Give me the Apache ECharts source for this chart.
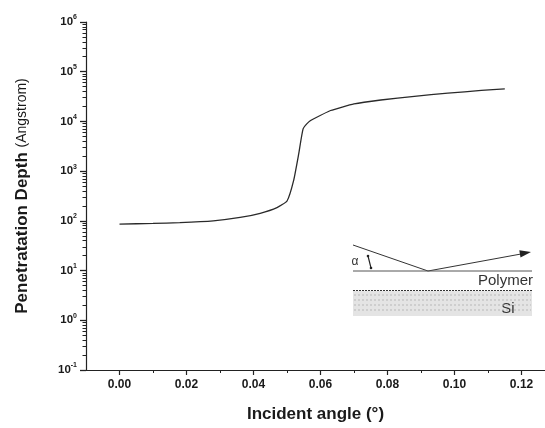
<!DOCTYPE html>
<html>
<head>
<meta charset="utf-8">
<script src="https://cdn.jsdelivr.net/npm/echarts@6/dist/echarts.min.js"></script>
<style>
  html, body { margin: 0; padding: 0; background: #fff; }
  #main { width: 545px; height: 428px; }
</style>
</head>
<body>
<div id="main"></div>
<script>
// incident angle (deg) vs penetration depth (Angstrom)
var angles = [0, 0.010, 0.018, 0.028, 0.036, 0.042, 0.047, 0.050, 0.052, 0.0535, 0.0548, 0.0565, 0.058, 0.063, 0.070, 0.078, 0.088, 0.098, 0.108, 0.115];
var depths = [86, 89, 92, 100, 117, 142, 185, 251, 660, 2240, 7070, 9800, 11300, 16600, 22500, 27000, 32000, 37000, 42000, 45000];

var xMajorTicks = [0, 0.02, 0.04, 0.06, 0.08, 0.10, 0.12];
var xMinorTicks = [0.01, 0.03, 0.05, 0.07, 0.09, 0.11];
var yDecades = [-1, 0, 1, 2, 3, 4, 5, 6]; // exponents of 10

var yMinorTicks = [];
for (var d = -1; d < 6; d++) {
	for (var k = 2; k <= 9; k++) {
		yMinorTicks.push(d + Math.log10(k));
	}
}

var lineData = angles.map(function (a, i) {
	return [a, Math.log10(depths[i])];
});

var txt = '#1a1a1a';

// inset sketch (beam reflecting off polymer on Si)
var inset = [
	{ type: 'line', shape: { x1: 353, y1: 245, x2: 428, y2: 271 }, style: { stroke: '#333', lineWidth: 1 } },
	{ type: 'line', shape: { x1: 428, y1: 271, x2: 521, y2: 254 }, style: { stroke: '#333', lineWidth: 1 } },
	{ type: 'polygon', shape: { points: [[531, 252], [520.5, 257.5], [519.3, 250.3]] }, style: { fill: '#222' } },
	{ type: 'line', shape: { x1: 353, y1: 271, x2: 532, y2: 271 }, style: { stroke: '#555', lineWidth: 1 } },
	{ type: 'rect', shape: { x: 353, y: 291, width: 179, height: 25 }, style: { fill: '#e4e4e4' } },
	{ type: 'line', shape: { x1: 353, y1: 290.5, x2: 532, y2: 290.5 }, style: { stroke: '#333', lineWidth: 1.2, lineDash: [2, 1] } },
	{ type: 'line', shape: { x1: 368, y1: 256, x2: 371, y2: 268 }, style: { stroke: '#222', lineWidth: 1.2 } },
	{ type: 'circle', shape: { cx: 368, cy: 256, r: 1.3 }, style: { fill: '#222' } },
	{ type: 'circle', shape: { cx: 371, cy: 268, r: 1.3 }, style: { fill: '#222' } },
	{ type: 'text', x: 355, y: 262, style: { text: 'α', font: '12px Liberation Sans', fill: '#333', align: 'center', verticalAlign: 'middle' } },
	{ type: 'text', x: 533, y: 281, style: { text: 'Polymer', font: '15px Liberation Sans', fill: '#333', align: 'right', verticalAlign: 'middle' } },
	{ type: 'text', x: 508, y: 309, style: { text: 'Si', font: '15px Liberation Sans', fill: '#333', align: 'center', verticalAlign: 'middle' } }
];
for (var hy = 295; hy <= 313; hy += 5) {
	inset.push({ type: 'line', shape: { x1: 354, y1: hy, x2: 531, y2: hy }, style: { stroke: '#b8b8b8', lineWidth: 1, lineDash: [2, 2] } });
}

var chart = echarts.init(document.getElementById('main'), null, { renderer: 'canvas' });
chart.setOption({
	backgroundColor: '#fff',
	animation: false,
	grid: { left: 86, right: 0, top: 22, bottom: 56 },
	xAxis: [{
		type: 'value',
		min: -0.01,
		max: 0.127,
		interval: 0.01,
		name: 'Incident angle (°)',
		nameLocation: 'middle',
		nameGap: 36,
		nameTextStyle: { fontFamily: 'Liberation Sans', fontSize: 17, fontWeight: 'bold', color: txt },
		axisLine: { onZero: false, lineStyle: { color: '#222', width: 1.2 } },
		axisTick: { customValues: xMajorTicks, length: 5, lineStyle: { color: '#222', width: 1.2 } },
		axisLabel: {
			customValues: xMajorTicks, margin: 9,
			fontFamily: 'Liberation Sans', fontSize: 12, fontWeight: 'bold', color: txt,
			formatter: function (v) { return v.toFixed(2); }
		},
		splitLine: { show: false }
	}, {
		type: 'value',
		position: 'bottom',
		offset: 0,
		min: -0.01,
		max: 0.127,
		interval: 0.01,
		axisLine: { show: false, onZero: false },
		axisTick: { customValues: xMinorTicks, length: 3, lineStyle: { color: '#222' } },
		axisLabel: { show: false },
		splitLine: { show: false }
	}],
	yAxis: [{
		type: 'value',
		min: -1,
		max: 6,
		interval: 1,
		name: '{a|Penetratation Depth }{b|(Angstrom)}',
		nameLocation: 'middle',
		nameRotate: 90,
		nameGap: 55,
		nameTextStyle: {
			rich: {
				a: { fontFamily: 'Liberation Sans', fontSize: 17, fontWeight: 'bold', color: txt },
				b: { fontFamily: 'Liberation Sans', fontSize: 14, color: txt }
			}
		},
		axisLine: { onZero: false, lineStyle: { color: '#222', width: 1.2 } },
		axisTick: { customValues: yDecades, length: 6, lineStyle: { color: '#222', width: 1.3 } },
		axisLabel: {
			customValues: yDecades, margin: 9,
			formatter: function (v) { return '{b|10}{s|' + (v < 0 ? '-' : '') + Math.abs(v) + '}'; },
			rich: {
				b: { fontFamily: 'Liberation Sans', fontSize: 11.5, fontWeight: 'bold', color: txt, lineHeight: 16 },
				s: { fontFamily: 'Liberation Sans', fontSize: 7, fontWeight: 'bold', color: txt, verticalAlign: 'top', lineHeight: 16 }
			}
		},
		splitLine: { show: false }
	}, {
		type: 'value',
		position: 'left',
		offset: 0,
		min: -1,
		max: 6,
		interval: 1,
		axisLine: { show: false, onZero: false },
		axisTick: { customValues: yMinorTicks, length: 3.5, lineStyle: { color: '#222' } },
		axisLabel: { show: false },
		splitLine: { show: false }
	}],
	series: [{
		type: 'line',
		data: lineData,
		showSymbol: false,
		smooth: 0.15,
		lineStyle: { color: '#2a2a2a', width: 1.3 }
	}],
	graphic: inset
});
</script>
</body>
</html>
